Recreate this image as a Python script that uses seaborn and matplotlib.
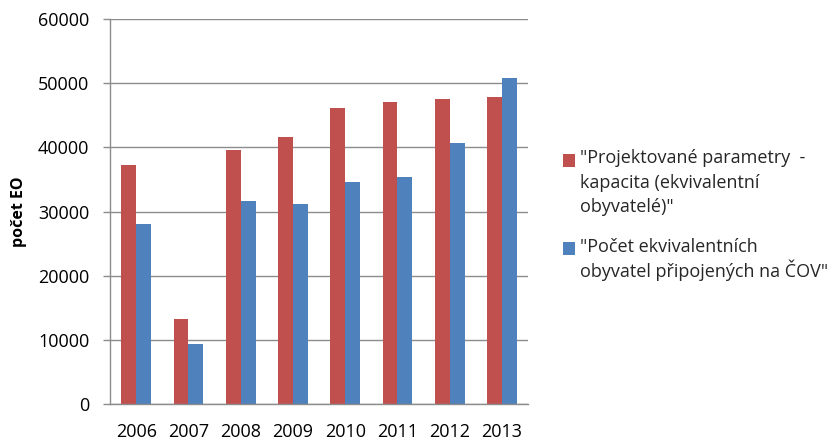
import matplotlib
matplotlib.use("Agg")
import matplotlib.pyplot as plt
import pandas as pd
import seaborn as sns

years = ["2006", "2007", "2008", "2009", "2010", "2011", "2012", "2013"]
kapacita = [37300, 13300, 39600, 41600, 46100, 47100, 47600, 47800]
pripojeni = [28100, 9400, 31600, 31100, 34600, 35400, 40600, 50800]
series_names = [
    '"Projektované parametry  -\nkapacita (ekvivalentní\nobyvatelé)"',
    '"Počet ekvivalentních\nobyvatel připojených na ČOV"',
]

df = pd.DataFrame({
    "rok": years * 2,
    "EO": kapacita + pripojeni,
    "serie": [series_names[0]] * len(years) + [series_names[1]] * len(years),
})

sns.set_theme(style="white")
plt.rcParams["font.family"] = ["Open Sans", "DejaVu Sans"]

fig = plt.figure(figsize=(8.4, 4.41), dpi=100)
ax = fig.add_axes([0.131, 0.0839, 0.4976, 0.873])

sns.barplot(data=df, x="rok", y="EO", hue="serie", order=years,
            hue_order=series_names, palette=["#C0504D", "#4F81BD"],
            width=0.57, gap=0, saturation=1, linewidth=0, ax=ax, legend=True)

ax.set_ylim(0, 60000)
ax.set_xlim(-0.5, len(years) - 0.5)
ax.set_yticks(range(0, 60001, 10000))
ax.yaxis.grid(True, color="#8c8c8c", linewidth=1)
ax.set_axisbelow(True)
for s in ["top", "right"]:
    ax.spines[s].set_visible(False)
for s in ["left", "bottom"]:
    ax.spines[s].set_color("#8c8c8c")
    ax.spines[s].set_linewidth(1)

ax.set_xticks([i - 0.5 for i in range(len(years) + 1)], minor=True)
ax.tick_params(axis="x", which="minor", length=5, color="#8c8c8c", width=1)
ax.tick_params(axis="x", which="major", length=0, pad=14, labelsize=13, labelcolor="black")
ax.tick_params(axis="y", which="major", length=5, color="#8c8c8c", width=1, left=True,
               pad=10, labelsize=13, labelcolor="black")

ax.set_xlabel("")
ax.set_ylabel("počet EO", fontsize=11.5, fontweight="bold", color="black")
ax.yaxis.set_label_coords(-0.198, 0.5)

handles, labels = ax.get_legend_handles_labels()
ax.get_legend().remove()
leg = fig.legend(handles, labels, loc="upper left", bbox_to_anchor=(0.670, 0.661),
                 frameon=False, fontsize=13, handlelength=0.68, handleheight=0.68,
                 handletextpad=0.3, labelspacing=1.2, borderpad=0, borderaxespad=0)
texts = leg.get_texts()
texts[0].set_linespacing(1.45)
texts[1].set_linespacing(1.2)  # the Č makes that line taller

# put each legend square next to the first line of its label
fig.canvas.draw()
for t, h in zip(texts, leg.legend_handles):
    tb = t.get_window_extent()
    hb = h.get_window_extent()
    n = t.get_text().count("\n") + 1
    lh = tb.height / n
    dy = (tb.y1 - lh / 2) - (hb.y0 + hb.y1) / 2
    h.set_y(h.get_y() + dy * 72 / fig.dpi)

fig.savefig("out.png", dpi=100)
